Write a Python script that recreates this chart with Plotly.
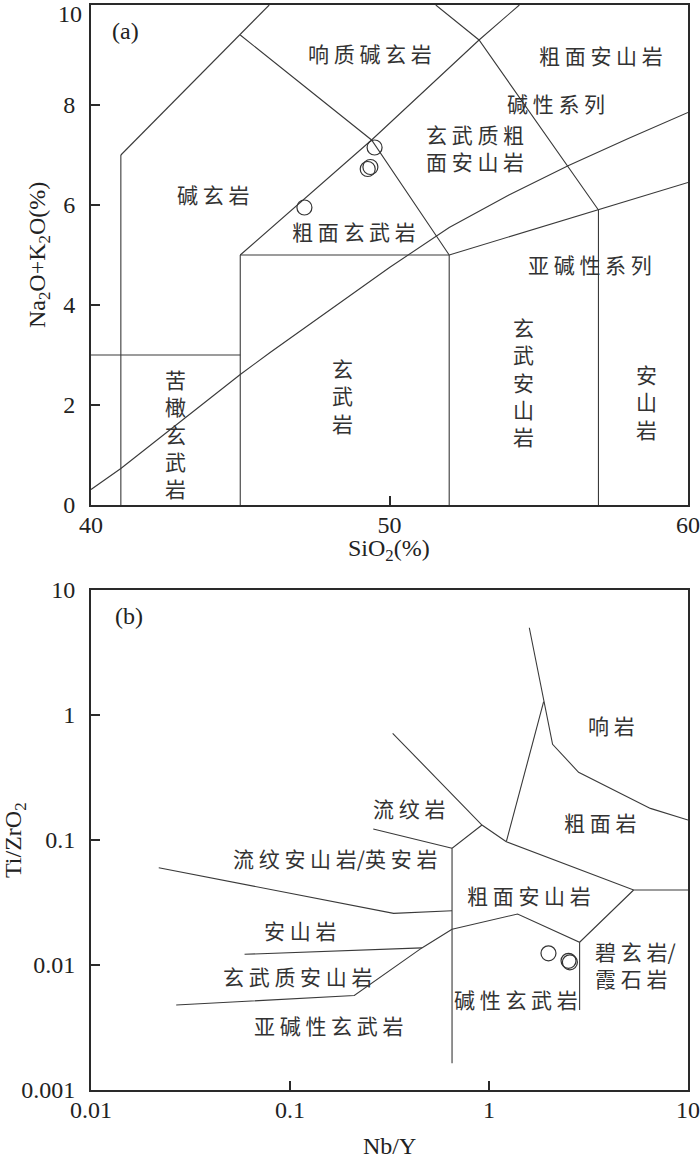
import math
import plotly.graph_objects as go

# ---------------- Panel (a): TAS diagram ----------------
tas_sio2 = [47.15, 49.5, 49.27, 49.36]
tas_alk = [5.95, 7.15, 6.72, 6.76]

# alkaline / subalkaline divider
div_sio2 = [40, 41, 42, 44, 45, 46, 48, 50, 52, 54, 56, 58, 60]
div_alk = [0.31, 0.73, 1.2, 2.15, 2.61, 3.05, 3.9, 4.75, 5.55, 6.2, 6.79, 7.33, 7.85]

# TAS field boundaries: (SiO2 list, Na2O+K2O list)
tas_bounds = [
    ([41, 41], [0, 7]),
    ([41, 45, 45.97], [7, 9.4, 10]),
    ([45, 49.4, 52], [9.4, 7.3, 5]),
    ([45, 49.4, 53, 54.35], [5, 7.3, 9.3, 10]),
    ([51.55, 53, 57], [10, 9.3, 5.9]),
    ([52, 57, 60], [5, 5.9, 6.45]),
    ([45, 52], [5, 5]),
    ([45, 45], [0, 5]),
    ([52, 52], [0, 5]),
    ([57, 57], [0, 5.9]),
    ([40, 45], [3, 3]),
]

tas_yticks = [0, 2, 4, 6, 8]
tas_xticks = [40, 50, 60]

tas_labels = [
    ("响 质 碱 玄 岩", 49.36, 9.04),
    ("粗 面 安 山 岩", 57.09, 9.0),
    ("碱 性 系 列", 55.57, 8.05),
    ("玄 武 质 粗<br>面 安 山 岩", 52.86, 7.15),
    ("碱 玄 岩", 44.10, 6.22),
    ("粗 面 玄 武 岩", 48.81, 5.48),
    ("亚 碱 性 系 列", 56.70, 4.82),
    ("苦<br>橄<br>玄<br>武<br>岩", 42.82, 1.43),
    ("玄<br>武<br>岩", 48.44, 2.2),
    ("玄<br>武<br>安<br>山<br>岩", 54.49, 2.48),
    ("安<br>山<br>岩", 58.62, 2.08),
]

# ---------------- Panel (b): Nb/Y vs Ti/ZrO2 ----------------
wf_nby = [1.99, 2.51, 2.55]
wf_tizr = [0.0124, 0.0108, 0.0105]

wf_bounds = [
    ([1.594, 1.882, 2.087, 2.82, 6.47, 10], [4.99, 1.277, 0.583, 0.348, 0.179, 0.1445]),
    ([1.882, 1.222], [1.277, 0.0969]),
    ([1.222, 5.33, 10], [0.0969, 0.0398, 0.0398]),
    ([0.328, 0.922, 1.222], [0.714, 0.1318, 0.0969]),
    ([0.922, 0.652, 0.652], [0.1318, 0.0858, 0.001636]),
    ([0.262, 0.652], [0.1225, 0.0858]),
    ([0.0219, 0.3316, 0.652], [0.060, 0.0259, 0.0272]),
    ([0.0591, 0.46], [0.01218, 0.0137]),
    ([0.0268, 0.2104, 0.46, 0.652], [0.00479, 0.0057, 0.0137, 0.0193]),
    ([0.652, 1.392, 2.853, 5.33], [0.0193, 0.0256, 0.0152, 0.0398]),
    ([2.853, 2.853], [0.0152, 0.00437]),
]

wf_xticks = [0.01, 0.1, 1, 10]
wf_xtext = ["0.01", "0.1", "1", "10"]
wf_yticks = [0.001, 0.01, 0.1, 1, 10]
wf_ytext = ["0.001", "0.01", "0.1", "1", "10"]

wf_labels = [
    ("响 岩", 4.12, 0.832, "center"),
    ("粗 面 岩", 3.62, 0.139, "center"),
    ("流 纹 岩", 0.398, 0.180, "center"),
    ("流 纹 安 山 岩/英 安 岩", 0.169, 0.0718, "center"),
    ("粗 面 安 山 岩", 1.594, 0.0363, "center"),
    ("安 山 岩", 0.1127, 0.0191, "center"),
    ("碧 玄 岩/<br>霞 石 岩", 3.34, 0.01015, "left"),
    ("玄 武 质 安 山 岩", 0.110, 0.00817, "center"),
    ("碱 性 玄 武 岩", 1.371, 0.00535, "center"),
    ("亚 碱 性 玄 武 岩", 0.1576, 0.00331, "center"),
]

LINE = "#3a3a3a"
CJK = "Noto Sans CJK SC"
SERIF = "Liberation Serif, Times New Roman, serif"

fig = go.Figure()

for xs, ys in tas_bounds:
    fig.add_trace(go.Scatter(x=xs, y=ys, mode="lines", line=dict(color=LINE, width=1.1),
                             xaxis="x", yaxis="y", showlegend=False, hoverinfo="skip"))
fig.add_trace(go.Scatter(x=div_sio2, y=div_alk, mode="lines", line=dict(color=LINE, width=1.1),
                         xaxis="x", yaxis="y", showlegend=False, hoverinfo="skip"))
fig.add_trace(go.Scatter(x=tas_sio2, y=tas_alk, mode="markers",
                         marker=dict(symbol="circle-open", size=15, color="#333", line=dict(width=1.2)),
                         xaxis="x", yaxis="y", showlegend=False))

for xs, ys in wf_bounds:
    fig.add_trace(go.Scatter(x=xs, y=ys, mode="lines", line=dict(color=LINE, width=1.1),
                             xaxis="x2", yaxis="y2", showlegend=False, hoverinfo="skip"))
fig.add_trace(go.Scatter(x=wf_nby, y=wf_tizr, mode="markers",
                         marker=dict(symbol="circle-open", size=15, color="#333", line=dict(width=1.2)),
                         xaxis="x2", yaxis="y2", showlegend=False))

annotations = []
for txt, x, y in tas_labels:
    annotations.append(dict(text=txt, x=x, y=y, xref="x", yref="y", showarrow=False,
                            font=dict(family=CJK, size=21, color="#333")))
for txt, x, y, anc in wf_labels:
    annotations.append(dict(text=txt, x=math.log10(x), y=math.log10(y), xref="x2", yref="y2",
                            showarrow=False, xanchor=anc, align=anc,
                            font=dict(family=CJK, size=21, color="#333")))

annotations.append(dict(text="(a)", x=41.15, y=9.48, xref="x", yref="y", showarrow=False,
                        font=dict(family=SERIF, size=24, color="#222")))
annotations.append(dict(text="(b)", x=math.log10(0.0155), y=math.log10(6.2), xref="x2", yref="y2",
                        showarrow=False, font=dict(family=SERIF, size=24, color="#222")))

# axis titles (pixel positions converted to paper coordinates)
def px(xp):
    return (xp - 91) / 597.0

def py(yp):
    return (1090 - yp) / 1085.0

# top "10" label of panel (a) (sits just below the top corner in the original)
annotations.append(dict(text="10", x=px(83), y=py(0), xref="paper", yref="paper",
                        xanchor="right", yanchor="top", showarrow=False, borderpad=0,
                        font=dict(family=SERIF, size=24, color="#222")))

annotations.append(dict(text="SiO<sub>2</sub>(%)", x=px(389), y=py(550), xref="paper", yref="paper",
                        xanchor="center", yanchor="middle",
                        showarrow=False, font=dict(family=SERIF, size=24, color="#222")))
annotations.append(dict(text="Nb/Y", x=px(389), y=py(1160), xref="paper", yref="paper",
                        xanchor="center", yanchor="bottom", borderpad=0,
                        showarrow=False, font=dict(family=SERIF, size=24, color="#222")))
annotations.append(dict(text="Na<sub>2</sub>O+K<sub>2</sub>O(%)", x=px(39), y=py(255), xref="paper",
                        yref="paper", xanchor="center", yanchor="middle",
                        showarrow=False, textangle=-90,
                        font=dict(family=SERIF, size=24, color="#222")))
annotations.append(dict(text="Ti/ZrO<sub>2</sub>", x=px(15), y=py(840), xref="paper",
                        yref="paper", xanchor="center", yanchor="middle",
                        showarrow=False, textangle=-90,
                        font=dict(family=SERIF, size=24, color="#222")))

axis_common = dict(showgrid=False, zeroline=False, showline=True, linewidth=2, linecolor="#2a2a2a",
                   mirror=True, ticks="inside", ticklen=9, tickwidth=2, tickcolor="#2a2a2a",
                   automargin=False,
                   tickfont=dict(family=SERIF, size=24, color="#222"))

fig.update_layout(
    width=700, height=1160,
    margin=dict(l=91, r=12, t=5, b=70),
    plot_bgcolor="white", paper_bgcolor="white",
    showlegend=False,
    xaxis=dict(domain=[0, 1], range=[40, 60], tickvals=tas_xticks, anchor="y",
               ticklabelstandoff=-3, **axis_common),
    yaxis=dict(domain=[py(505), 1.0], range=[0, 10], tickvals=tas_yticks, anchor="x",
               ticklabelstandoff=9, **axis_common),
    xaxis2=dict(domain=[0, 1], type="log", range=[-2, 1], tickvals=wf_xticks,
                ticktext=wf_xtext, anchor="y2", ticklabelstandoff=-3, **axis_common),
    yaxis2=dict(domain=[0, py(590)], type="log", range=[-3, 1],
                tickvals=wf_yticks, ticktext=wf_ytext,
                anchor="x2", ticklabelstandoff=9, **axis_common),
    annotations=annotations,
)

fig.write_html("out.html", config={"displayModeBar": False},
               post_script="document.body.style.margin='0';document.body.style.overflow='hidden';")
